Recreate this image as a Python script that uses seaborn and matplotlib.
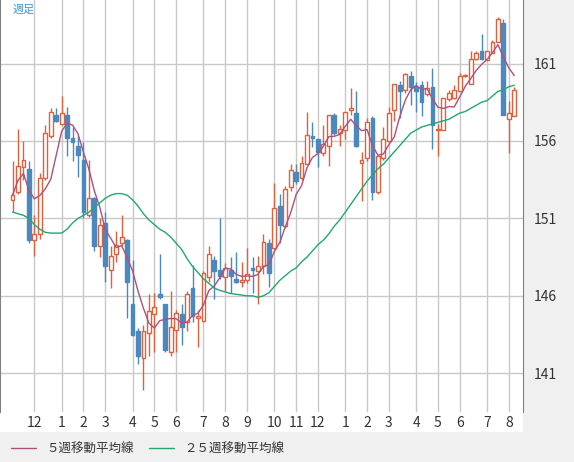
import numpy as np
import pandas as pd
import seaborn as sns
import matplotlib.pyplot as plt
from matplotlib.patches import Rectangle
from matplotlib.lines import Line2D

# weekly candles (open, high, low, close)
opens = [152.2, 152.7, 154.3, 154.2, 149.6, 150.0, 153.6, 156.3, 157.7, 157.1,
         157.7, 156.2, 155.7, 154.8, 151.2, 152.3, 149.2, 150.7, 147.7, 148.7,
         149.4, 149.6, 145.5, 143.7, 142.0, 143.6, 144.8, 146.1, 145.5, 142.4,
         143.8, 144.8, 144.3, 146.5, 144.6, 144.4, 147.2, 148.3, 147.7, 147.2,
         147.7, 147.1, 146.9, 147.0, 147.8, 147.6, 147.9, 149.4, 149.1, 151.8,
         150.5, 153.0, 154.0, 153.6, 154.5, 156.3, 156.1, 155.2, 155.7, 157.7,
         156.5, 156.7, 158.0, 157.8, 154.6, 154.9, 157.5, 152.7, 154.9, 156.0,
         158.0, 159.6, 159.3, 160.2, 159.5, 159.6, 159.0, 159.5, 156.7, 156.7,
         158.7, 158.8, 159.2, 160.2, 159.7, 161.3, 161.8, 161.2, 161.7, 162.4,
         163.6, 157.4, 157.6]
highs = [154.7, 156.8, 156.0, 154.7, 151.2, 153.9, 157.0, 158.1, 158.1, 158.9,
         158.2, 156.9, 156.3, 155.9, 154.8, 152.4, 151.0, 151.4, 149.2, 150.2,
         151.2, 149.7, 148.3, 143.9, 144.1, 146.1, 146.2, 148.7, 145.5, 146.3,
         145.1, 145.5, 146.3, 148.0, 145.1, 147.6, 149.2, 148.6, 151.0, 148.1,
         148.5, 148.8, 148.2, 149.1, 148.5, 148.6, 150.0, 149.7, 153.3, 152.6,
         153.1, 154.5, 154.5, 155.0, 157.9, 157.2, 156.1, 157.0, 157.7, 157.8,
         157.0, 157.9, 159.4, 159.2, 155.3, 157.5, 157.6, 155.1, 156.9, 158.2,
         159.7, 159.9, 160.4, 160.5, 159.8, 159.9, 159.9, 160.7, 157.1, 158.8,
         159.3, 159.6, 160.4, 160.3, 161.8, 161.8, 162.9, 161.8, 162.5, 164.0,
         163.9, 158.6, 159.5]
lows = [151.4, 152.6, 153.5, 149.4, 148.6, 149.7, 153.5, 156.2, 157.2, 157.0,
        155.0, 154.7, 153.7, 151.0, 151.1, 148.9, 148.5, 146.9, 146.5, 148.2,
        149.2, 144.6, 143.4, 141.6, 139.9, 142.1, 142.4, 145.8, 142.4, 142.1,
        142.4, 142.8, 143.7, 144.3, 142.7, 144.3, 146.9, 145.8, 147.1, 146.3,
        146.2, 146.8, 146.6, 146.8, 146.2, 145.5, 147.4, 146.6, 149.0, 149.4,
        150.4, 152.8, 153.2, 153.5, 154.5, 155.6, 154.3, 155.0, 154.4, 156.4,
        155.7, 156.1, 157.7, 155.6, 152.1, 154.7, 152.2, 152.6, 154.8, 155.9,
        157.3, 157.5, 159.1, 158.3, 157.9, 157.6, 158.9, 155.5, 155.0, 156.7,
        158.6, 158.7, 159.2, 160.1, 159.7, 161.2, 161.2, 161.2, 161.7, 162.4,
        157.7, 155.2, 157.6]
closes = [152.5, 154.4, 154.8, 149.6, 150.0, 153.6, 156.5, 157.9, 157.3, 157.8,
          156.2, 155.9, 155.1, 151.4, 152.3, 149.2, 150.6, 147.9, 148.6, 149.3,
          149.8, 146.9, 143.5, 142.1, 143.7, 145.0, 145.3, 145.9, 142.5, 144.0,
          144.9, 144.0, 146.1, 144.7, 144.7, 147.5, 148.7, 147.6, 147.3, 147.8,
          147.3, 146.9, 147.0, 147.4, 147.7, 147.9, 149.5, 147.5, 151.7, 150.6,
          152.9, 154.1, 153.4, 154.6, 156.4, 156.2, 155.3, 155.8, 157.7, 156.5,
          156.8, 157.9, 158.1, 155.7, 154.8, 157.2, 152.7, 155.0, 156.1, 157.8,
          159.7, 159.2, 160.3, 159.5, 159.2, 158.5, 159.4, 157.0, 156.8, 158.8,
          159.1, 159.3, 160.2, 160.2, 161.3, 161.7, 161.3, 161.8, 162.4, 163.9,
          157.7, 157.8, 159.3]
# 25-week moving average as drawn (includes weeks before the window)
ma25 = [151.4, 151.3, 151.2, 151.0, 150.6, 150.3, 150.1, 150.05, 150.05, 150.05,
        150.3, 150.7, 151.0, 151.2, 151.4, 151.7, 152.0, 152.3, 152.5, 152.6,
        152.6, 152.5, 152.2, 151.8, 151.3, 150.9, 150.6, 150.3, 150.1, 149.8,
        149.4, 149.0, 148.4, 147.9, 147.5, 147.1, 146.8, 146.5, 146.35, 146.25,
        146.15, 146.1, 146.05, 146.0, 146.0, 145.9, 146.0, 146.2, 146.6, 147.0,
        147.3, 147.6, 147.8, 148.2, 148.5, 148.9, 149.3, 149.6, 150.0, 150.5,
        150.9, 151.4, 151.9, 152.4, 152.9, 153.4, 153.8, 154.2, 154.5, 154.9,
        155.3, 155.7, 156.1, 156.5, 156.7, 156.9, 157.0, 157.1, 157.2, 157.3,
        157.4, 157.6, 157.8, 157.9, 158.1, 158.3, 158.5, 158.6, 158.9, 159.2,
        159.3, 159.5, 159.6]
month_pos = [4, 9, 13, 17, 22, 26, 30, 35, 39, 43, 48, 52, 56, 61, 65, 69, 74, 78, 82, 87, 91]
month_labels = ['12', '1', '2', '3', '4', '5', '6', '7', '8', '9', '10', '11', '12',
                '1', '2', '3', '4', '5', '6', '7', '8']
y_ticks = [141, 146, 151, 156, 161]

df = pd.DataFrame({'open': opens, 'high': highs, 'low': lows, 'close': closes, 'ma25': ma25})
df['idx'] = np.arange(len(df))
df['ma5'] = df['close'].rolling(5, min_periods=1).mean()

UP, DOWN = '#e0603c', '#4a88c0'

sns.set_style('white')
plt.rcParams['font.family'] = ['Noto Sans CJK JP', 'DejaVu Sans']

fig = plt.figure(figsize=(5.74, 4.62), dpi=100, facecolor='#f0f0f0')
# white strip under the plot for the month labels
fig.add_artist(Rectangle((0, 30 / 462), 523 / 574, 20 / 462, transform=fig.transFigure,
                         facecolor='white', edgecolor='none', zorder=-5))
ax = fig.add_axes([0, 50 / 462, 523 / 574, 412 / 462])
ax.set_zorder(2)
ax.set_facecolor('white')

for v in y_ticks:
    ax.axhline(v, color='#c8c8c8', lw=1, zorder=0)
for p in month_pos:
    ax.axvline(p, color='#c8c8c8', lw=1, zorder=0)

for _, r in df.iterrows():
    up = r['close'] >= r['open']
    c = UP if up else DOWN
    lo_b, hi_b = min(r['open'], r['close']), max(r['open'], r['close'])
    ax.vlines(r['idx'], r['low'], lo_b, color=c, lw=1, zorder=2)
    ax.vlines(r['idx'], hi_b, r['high'], color=c, lw=1, zorder=2)
    ax.bar(r['idx'], max(hi_b - lo_b, 0.08), bottom=lo_b, width=0.7,
           facecolor='white' if up else c, edgecolor=c, lw=1, zorder=3)

sns.lineplot(data=df, x='idx', y='ma5', ax=ax, color='#b0507a', lw=1, zorder=4)
sns.lineplot(data=df, x='idx', y='ma25', ax=ax, color='#20a870', lw=1, zorder=4)

ax.set_xlim(-2.3, 93.6)
ax.set_ylim(138.5, 165.1)
ax.set_xticks(month_pos)
ax.set_xticklabels(month_labels, fontsize=10, color='#333333')
ax.tick_params(axis='x', length=0, pad=3)
ax.yaxis.tick_right()
ax.set_yticks(y_ticks)
ax.set_yticklabels([str(v) for v in y_ticks], fontsize=10, color='#333333')
ax.tick_params(axis='y', length=0, pad=8)
ax.set_xlabel('')
ax.set_ylabel('')
for s in ['top', 'bottom']:
    ax.spines[s].set_visible(False)
ax.spines['left'].set_color('#808080')
ax.spines['right'].set_color('#808080')

ax.text(0.025, 0.99, '週足', transform=ax.transAxes, fontsize=8, color='#3399cc', va='top')

fig.legend(handles=[Line2D([], [], color='#b0507a', lw=1), Line2D([], [], color='#20a870', lw=1)],
           labels=['５週移動平均線', '２５週移動平均線'], loc='lower left', bbox_to_anchor=(0.0, -0.01),
           ncol=2, frameon=False, fontsize=9, handlelength=2.0, columnspacing=1.2,
           labelcolor='#333333')

fig.savefig('out.png', dpi=100, facecolor=fig.get_facecolor())
